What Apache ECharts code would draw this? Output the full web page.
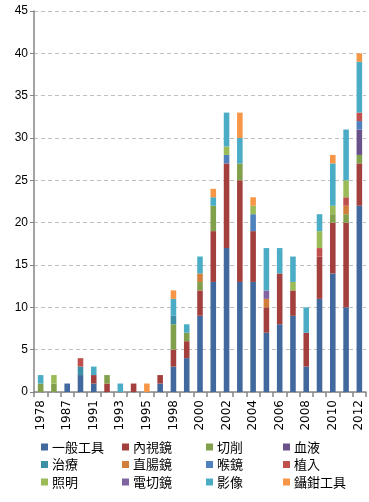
<!DOCTYPE html>
<html>
<head>
<meta charset="utf-8">
<script src="https://cdn.jsdelivr.net/npm/echarts@6/dist/echarts.min.js"></script>
<style>html,body{margin:0;padding:0;background:#fff}#c{width:369px;height:502px}</style>
</head>
<body>
<div id="c"></div>
<script>
var categories = ['1978','1986','1987','1990','1991','1992','1993','1994','1995','1997','1998','1999','2000','2001','2002','2003','2004','2005','2006','2007','2008','2009','2010','2011','2012'];
var seriesNames = ['一般工具','內視鏡','切削','血液','治療','直腸鏡','喉鏡','植入','照明','電切鏡','影像','鑷鉗工具'];
var generalTools = [0,0,1,2,1,0,0,0,0,1,3,4,9,13,17,13,13,7,8,9,3,11,14,10,22];
var endoscope    = [0,0,0,0,1,1,0,1,0,1,2,2,3,6,10,12,6,3,6,3,4,5,6,10,5];
var cutting      = [1,1,0,0,0,1,0,0,0,0,3,1,1,3,0,2,0,0,0,0,0,0,1,1,1];
var blood        = [0,0,0,0,0,0,0,0,0,0,0,0,0,0,0,0,0,0,0,0,0,0,0,0,3];
var therapy      = [0,0,0,1,0,0,0,0,0,0,1,0,0,0,0,0,0,0,0,0,0,0,0,0,0];
var rectoscope   = [0,0,0,0,0,0,0,0,0,0,0,0,1,0,0,0,0,1,0,0,0,0,0,1,0];
var laryngoscope = [0,0,0,0,0,0,0,0,0,0,0,0,0,0,1,0,2,0,0,0,0,0,0,0,1];
var implant      = [0,0,0,1,0,0,0,0,0,0,0,0,0,0,0,0,0,0,0,0,0,1,0,1,1];
var lighting     = [0,1,0,0,0,0,0,0,0,0,0,0,0,0,1,0,1,0,0,1,0,2,1,2,0];
var resectoscope = [0,0,0,0,0,0,0,0,0,0,0,0,0,0,0,0,0,1,0,0,0,0,0,0,0];
var imaging      = [1,0,0,0,1,0,1,0,0,0,2,1,2,1,4,3,0,5,3,3,3,2,5,6,6];
var forceps      = [0,0,0,0,0,0,0,0,1,0,1,0,0,1,0,3,1,0,0,0,0,0,1,0,1];
var yTicks = [0,5,10,15,20,25,30,35,40,45];

var values = [generalTools,endoscope,cutting,blood,therapy,rectoscope,laryngoscope,implant,lighting,resectoscope,imaging,forceps];
var colors = ['#41699E','#A3403E','#82A04B','#6B5189','#3D8FA6','#D07E3A','#4F81BD','#C0504D','#9BBB59','#8064A2','#4BACC6','#F79646'];

var series = seriesNames.map(function(n,i){
  return {name:n,type:'bar',stack:'all',data:values[i],barWidth:'42%',
    itemStyle:{color:colors[i]}};
});
var cols = [[0,4,8],[1,5,9],[2,6,10],[3,7,11]];
var lefts = [41,122,206,283];
var legends = cols.map(function(c,k){
  return {orient:'vertical',left:lefts[k],top:440,padding:0,itemGap:3.5,itemWidth:7,itemHeight:7,icon:'rect',
    data:c.map(function(i){return seriesNames[i];}),
    textStyle:{fontFamily:'Noto Sans CJK TC',fontSize:13,color:'#000',lineHeight:14,padding:[0,0,0,-1]}};
});
var chart = echarts.init(document.getElementById('c'));
chart.setOption({
  animation:false,
  color:colors,
  grid:{left:34,right:3,top:11,bottom:110,containLabel:false},
  legend:legends,
  xAxis:{type:'category',data:categories,boundaryGap:true,
    axisLine:{lineStyle:{color:'#868686',width:1.5}},
    axisTick:{show:true,interval:0,length:5,lineStyle:{color:'#868686',width:1.5}},
    axisLabel:{interval:1,rotate:90,margin:8,color:'#000',fontFamily:'DejaVu Sans',fontSize:12}},
  yAxis:{type:'value',min:yTicks[0],max:yTicks[yTicks.length-1],interval:5,
    axisLine:{show:true,lineStyle:{color:'#868686',width:1.5}},
    axisTick:{show:true,inside:false,length:4,lineStyle:{color:'#868686'}},
    axisLabel:{color:'#000',fontFamily:'Liberation Sans',fontSize:12,margin:6},
    splitLine:{show:true,lineStyle:{color:'#BFBFBF',type:[4,3]}}},
  series:series
});
</script>
</body>
</html>
